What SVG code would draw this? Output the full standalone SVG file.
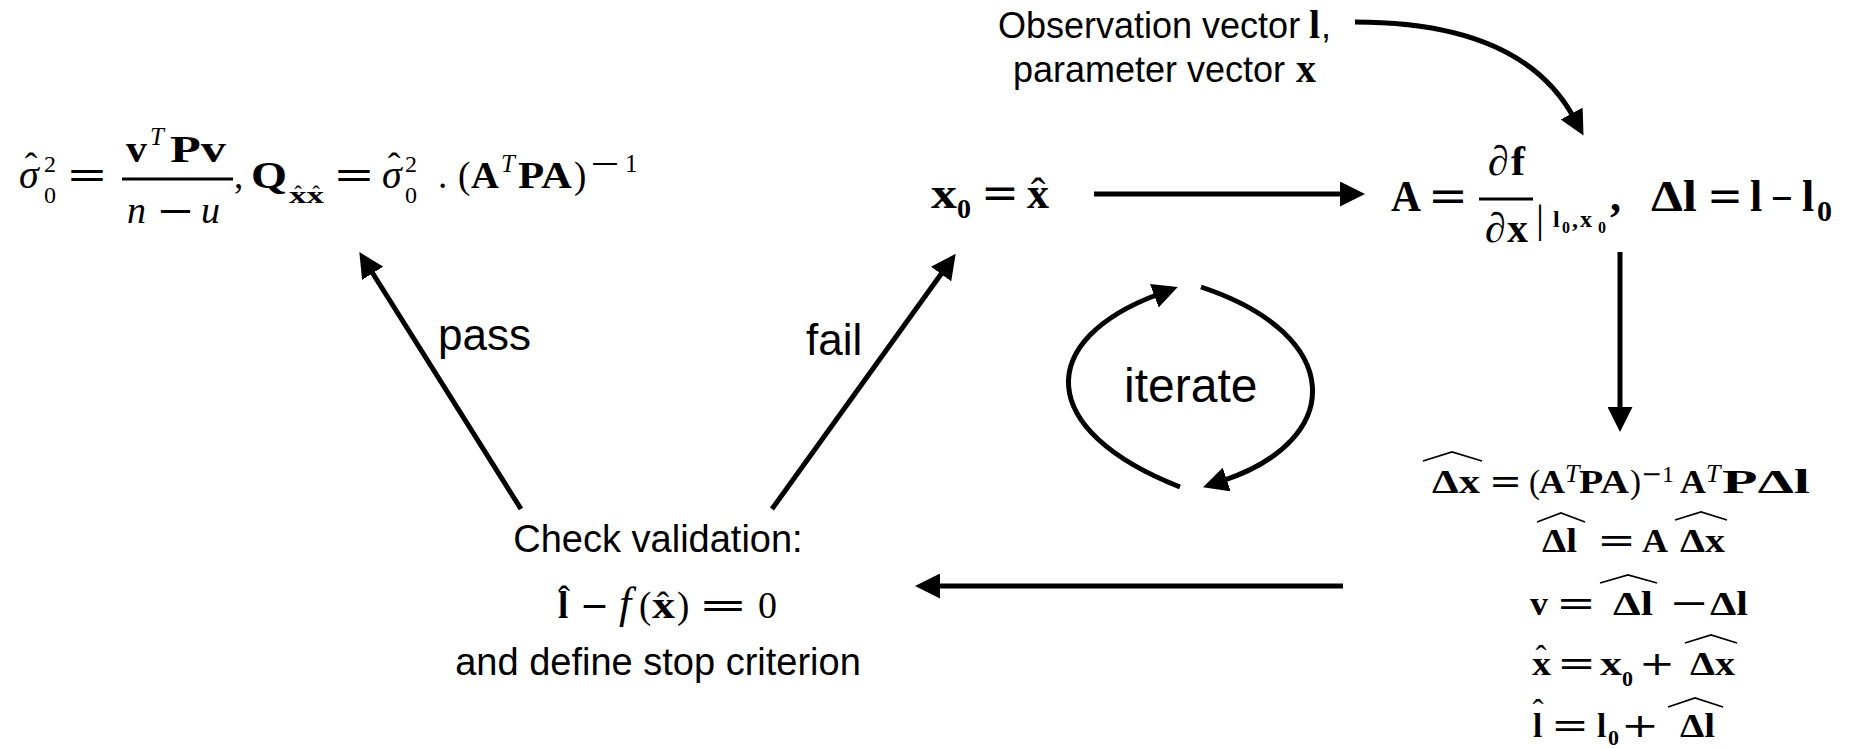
<svg xmlns="http://www.w3.org/2000/svg" width="1852" height="748" viewBox="0 0 1852 748">
<defs>
<style>
.s{font-family:"Liberation Sans",Arial,sans-serif;fill:#000}
.m{font-family:"Liberation Serif","Times New Roman",serif;fill:#000}
.b{font-weight:bold}
.i{font-style:italic}
.op{font-family:"DejaVu Serif",serif;fill:#000}
.wh{fill:none;stroke:#000;stroke-width:1.8;stroke-linejoin:miter}
.bar{fill:#000}
.c{fill:none;stroke:#000;stroke-width:5}
</style>
<marker id="ah" viewBox="0 0 25 25" markerWidth="25" markerHeight="25" refX="5" refY="12.5" orient="auto" markerUnits="userSpaceOnUse">
<path d="M0,0 L25,12.5 L0,25 z" fill="#000"/>
</marker>
</defs>
<rect width="1852" height="748" fill="#fff"/>

<g id="connectors">
<path class="c" d="M1355,22 Q1522,22 1574,118" stroke-width="5.5" marker-end="url(#ah)"/>
<path class="c" d="M1094,194 H1345" marker-end="url(#ah)"/>
<path class="c" d="M1620,252 V412" marker-end="url(#ah)"/>
<path class="c" d="M1343,586 H935" marker-end="url(#ah)"/>
<path class="c" d="M521,509 L370,269" marker-end="url(#ah)"/>
<path class="c" d="M772,509 L944,270" marker-end="url(#ah)"/>
<path class="c" d="M1180,487 C1035,430 1035,340 1159,294" marker-end="url(#ah)"/>
<path class="c" d="M1201,287 C1346,335 1346,440 1222,481" marker-end="url(#ah)"/>
</g>

<g id="label-pass"><text class="s" x="438" y="350" font-size="44">pass</text></g>
<g id="label-fail"><text class="s" x="806" y="355" font-size="44">fail</text></g>
<g id="label-iterate"><text class="s" x="1124" y="402" font-size="48">iterate</text></g>

<g id="node-input">
<text class="s" x="998" y="38" font-size="36">Observation vector</text>
<text class="m b" x="1309" y="38" font-size="40">l</text>
<text class="s" x="1321" y="38" font-size="36">,</text>
<text class="s" x="1013" y="82" font-size="36">parameter vector</text>
<text class="m b" x="1296" y="82" font-size="40">x</text>
</g>

<g id="node-result">
<text class="m i" x="19" y="188" font-size="40">σ</text>
<text class="m" x="31" y="179" font-size="38" text-anchor="middle">&#710;</text>
<text class="m" x="44" y="172" font-size="24">2</text>
<text class="m" x="44" y="203" font-size="24">0</text>
<text class="op" x="66" y="188" font-size="40" textLength="42" lengthAdjust="spacingAndGlyphs">=</text>
<text class="m b" x="126" y="162" font-size="37" textLength="21" lengthAdjust="spacingAndGlyphs">v</text>
<text class="m i" x="150" y="145" font-size="25">T</text>
<text class="m b" x="170" y="162" font-size="37" textLength="56" lengthAdjust="spacingAndGlyphs">Pv</text>
<rect class="bar" x="122" y="177.5" width="111" height="3"/>
<text class="m i" x="127" y="223" font-size="38">n</text>
<text class="op" x="156" y="223" font-size="37" textLength="39" lengthAdjust="spacingAndGlyphs">−</text>
<text class="m i" x="201" y="223" font-size="38">u</text>
<text class="m" x="234" y="188" font-size="37">,</text>
<text class="m b" x="251" y="188" font-size="37" textLength="36" lengthAdjust="spacingAndGlyphs">Q</text>
<text class="m b" x="289" y="203" font-size="23" textLength="35" lengthAdjust="spacingAndGlyphs">xx</text>
<text class="m" x="298" y="202" font-size="23" text-anchor="middle">&#710;</text>
<text class="m" x="316" y="202" font-size="23" text-anchor="middle">&#710;</text>
<text class="op" x="333" y="188" font-size="40" textLength="42" lengthAdjust="spacingAndGlyphs">=</text>
<text class="m i" x="382" y="188" font-size="40">σ</text>
<text class="m" x="394" y="179" font-size="38" text-anchor="middle">&#710;</text>
<text class="m" x="405" y="172" font-size="24">2</text>
<text class="m" x="405" y="203" font-size="24">0</text>
<text class="m" x="438" y="188" font-size="37">.</text>
<text class="m" x="458" y="188" font-size="37">(</text>
<text class="m b" x="471" y="188" font-size="37" textLength="28" lengthAdjust="spacingAndGlyphs">A</text>
<text class="m i" x="501" y="172" font-size="25">T</text>
<text class="m b" x="518" y="188" font-size="37" textLength="54" lengthAdjust="spacingAndGlyphs">PA</text>
<text class="m" x="574" y="188" font-size="37">)</text>
<text class="op" x="589" y="172" font-size="26" textLength="32" lengthAdjust="spacingAndGlyphs">−</text>
<text class="m" x="625" y="172" font-size="25">1</text>
</g>

<g id="node-x0">
<text class="m b" x="931" y="208" font-size="44" textLength="26" lengthAdjust="spacingAndGlyphs">x</text>
<text class="m b" x="957" y="218" font-size="28">0</text>
<text class="op" x="981" y="208" font-size="44" textLength="38" lengthAdjust="spacingAndGlyphs">=</text>
<text class="m b" x="1027" y="208" font-size="44" textLength="22" lengthAdjust="spacingAndGlyphs">x</text>
<text class="m" x="1038" y="208" font-size="44" text-anchor="middle">&#710;</text>
</g>

<g id="node-design">
<text class="m b" x="1391" y="211" font-size="44" textLength="30" lengthAdjust="spacingAndGlyphs">A</text>
<text class="op" x="1428" y="211" font-size="44" textLength="40" lengthAdjust="spacingAndGlyphs">=</text>
<text class="m i" x="1488" y="175" font-size="42">∂</text>
<text class="m b" x="1511" y="175" font-size="42">f</text>
<rect class="bar" x="1479" y="197.5" width="54" height="3"/>
<text class="m i" x="1485" y="242" font-size="42">∂</text>
<text class="m b" x="1507" y="242" font-size="42" textLength="21" lengthAdjust="spacingAndGlyphs">x</text>
<text class="m" x="1536" y="232" font-size="40">|</text>
<text class="m b" x="1553" y="227" font-size="24">l</text>
<text class="m b" x="1562" y="233" font-size="16">0</text>
<text class="m b" x="1572" y="227" font-size="24">,</text>
<text class="m b" x="1580" y="227" font-size="24">x</text>
<text class="m b" x="1598" y="233" font-size="16">0</text>
<text class="m b" x="1610" y="211" font-size="44">,</text>
<text class="m b" x="1651" y="211" font-size="44" textLength="46" lengthAdjust="spacingAndGlyphs">Δl</text>
<text class="op" x="1707" y="211" font-size="44" textLength="36" lengthAdjust="spacingAndGlyphs">=</text>
<text class="m b" x="1750" y="211" font-size="44">l</text>
<text class="op" x="1770" y="211" font-size="40" textLength="24" lengthAdjust="spacingAndGlyphs">−</text>
<text class="m b" x="1802" y="211" font-size="44">l</text>
<text class="m b" x="1817" y="221" font-size="30">0</text>
</g>

<g id="node-solution">
<polyline class="wh" points="1423,461 1452,452 1482,461"/>
<text class="m b" x="1432" y="493" font-size="33" textLength="48" lengthAdjust="spacingAndGlyphs">Δx</text>
<text class="op" x="1489" y="493" font-size="36" textLength="33" lengthAdjust="spacingAndGlyphs">=</text>
<text class="m" x="1529" y="493" font-size="33">(</text>
<text class="m b" x="1539" y="493" font-size="33" textLength="26" lengthAdjust="spacingAndGlyphs">A</text>
<text class="m i" x="1565" y="482" font-size="26">T</text>
<text class="m b" x="1579" y="493" font-size="33" textLength="50" lengthAdjust="spacingAndGlyphs">PA</text>
<text class="m" x="1630" y="493" font-size="33">)</text>
<text class="op" x="1641" y="482" font-size="24" textLength="21" lengthAdjust="spacingAndGlyphs">−</text>
<text class="m" x="1662" y="482" font-size="24">1</text>
<text class="m b" x="1680" y="493" font-size="33" textLength="26" lengthAdjust="spacingAndGlyphs">A</text>
<text class="m i" x="1706" y="482" font-size="26">T</text>
<text class="m b" x="1722" y="493" font-size="33" textLength="88" lengthAdjust="spacingAndGlyphs">PΔl</text>

<polyline class="wh" points="1537,522 1561,513 1585,522"/>
<text class="m b" x="1542" y="552" font-size="33" textLength="35" lengthAdjust="spacingAndGlyphs">Δl</text>
<text class="op" x="1597" y="552" font-size="36" textLength="39" lengthAdjust="spacingAndGlyphs">=</text>
<text class="m b" x="1642" y="552" font-size="33" textLength="26" lengthAdjust="spacingAndGlyphs">A</text>
<polyline class="wh" points="1675,520 1701,512 1727,520"/>
<text class="m b" x="1680" y="552" font-size="33" textLength="45" lengthAdjust="spacingAndGlyphs">Δx</text>

<text class="m b" x="1530" y="615" font-size="33" textLength="18" lengthAdjust="spacingAndGlyphs">v</text>
<text class="op" x="1556" y="615" font-size="36" textLength="40" lengthAdjust="spacingAndGlyphs">=</text>
<polyline class="wh" points="1600,583 1628,575 1657,583"/>
<text class="m b" x="1613" y="615" font-size="33" textLength="40" lengthAdjust="spacingAndGlyphs">Δl</text>
<text class="op" x="1669" y="615" font-size="36" textLength="40" lengthAdjust="spacingAndGlyphs">−</text>
<text class="m b" x="1710" y="615" font-size="33" textLength="38" lengthAdjust="spacingAndGlyphs">Δl</text>

<text class="m b" x="1532" y="675" font-size="33" textLength="19" lengthAdjust="spacingAndGlyphs">x</text>
<text class="m" x="1541" y="669" font-size="33" text-anchor="middle">&#710;</text>
<text class="op" x="1557" y="675" font-size="36" textLength="39" lengthAdjust="spacingAndGlyphs">=</text>
<text class="m b" x="1600" y="675" font-size="33" textLength="22" lengthAdjust="spacingAndGlyphs">x</text>
<text class="m b" x="1622" y="686" font-size="22">0</text>
<text class="op" x="1639" y="675" font-size="33" textLength="36" lengthAdjust="spacingAndGlyphs">+</text>
<polyline class="wh" points="1685,643 1711,635 1737,643"/>
<text class="m b" x="1690" y="675" font-size="33" textLength="45" lengthAdjust="spacingAndGlyphs">Δx</text>

<text class="m b" x="1533" y="737" font-size="33">l</text>
<text class="m" x="1538" y="723" font-size="33" text-anchor="middle">&#710;</text>
<text class="op" x="1551" y="737" font-size="36" textLength="38" lengthAdjust="spacingAndGlyphs">=</text>
<text class="m b" x="1597" y="737" font-size="33">l</text>
<text class="m b" x="1608" y="745" font-size="22">0</text>
<text class="op" x="1621" y="737" font-size="33" textLength="38" lengthAdjust="spacingAndGlyphs">+</text>
<polyline class="wh" points="1668,707 1695,698 1723,707"/>
<text class="m b" x="1680" y="737" font-size="33" textLength="35" lengthAdjust="spacingAndGlyphs">Δl</text>
</g>

<g id="node-check">
<text class="s" x="658" y="552" font-size="38" text-anchor="middle">Check validation:</text>
<text class="m b" x="558" y="618" font-size="37">l</text>
<text class="m" x="564" y="612" font-size="37" text-anchor="middle">&#710;</text>
<text class="op" x="580" y="618" font-size="37" textLength="29" lengthAdjust="spacingAndGlyphs">−</text>
<text class="m i" x="619" y="618" font-size="44">f</text>
<text class="m" x="639" y="618" font-size="37">(</text>
<text class="m b" x="652" y="618" font-size="37" textLength="23" lengthAdjust="spacingAndGlyphs">x</text>
<text class="m" x="663" y="618" font-size="37" text-anchor="middle">&#710;</text>
<text class="m" x="677" y="618" font-size="37">)</text>
<text class="op" x="698" y="618" font-size="38" textLength="50" lengthAdjust="spacingAndGlyphs">=</text>
<text class="m" x="758" y="618" font-size="38">0</text>
<text class="s" x="658" y="675" font-size="38" text-anchor="middle">and define stop criterion</text>
</g>
</svg>
